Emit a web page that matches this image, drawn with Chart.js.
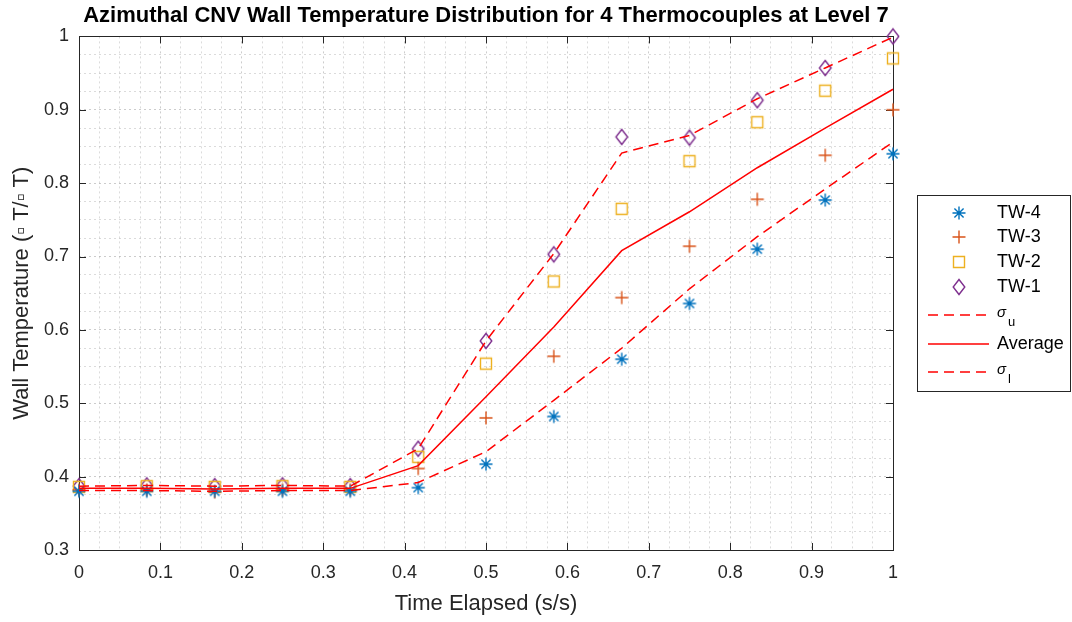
<!DOCTYPE html>
<html>
<head>
<meta charset="utf-8">
<title>Azimuthal CNV Wall Temperature</title>
<script src="https://cdn.jsdelivr.net/npm/chart.js@4.4.1/dist/chart.umd.min.js"></script>
<style>
  html, body { margin: 0; padding: 0; background: #fff; }
  #wrap { width: 1072px; height: 622px; }
</style>
</head>
<body>
<div id="wrap"><canvas id="wallChart" width="1072" height="622"></canvas></div>
<script>
// values
var timeElapsed = [0, 0.0833, 0.1667, 0.25, 0.3333, 0.4167, 0.5, 0.5833, 0.6667, 0.75, 0.8333, 0.9167, 1];
var tw4 = [0.380, 0.380, 0.380, 0.380, 0.380, 0.385, 0.417, 0.482, 0.560, 0.636, 0.710, 0.777, 0.840];
var tw3 = [0.382, 0.382, 0.379, 0.382, 0.382, 0.411, 0.480, 0.564, 0.644, 0.714, 0.778, 0.838, 0.900];
var tw2 = [0.386, 0.387, 0.386, 0.387, 0.386, 0.427, 0.554, 0.666, 0.765, 0.830, 0.883, 0.926, 0.970];
var tw1 = [0.387, 0.388, 0.387, 0.388, 0.387, 0.438, 0.585, 0.703, 0.863, 0.862, 0.913, 0.957, 1.000];
var avgTemp    = [0.384, 0.384, 0.383, 0.384, 0.384, 0.415, 0.509, 0.604, 0.708, 0.761, 0.821, 0.875, 0.928];
var sigmaUpper = [0.387, 0.388, 0.387, 0.388, 0.387, 0.438, 0.585, 0.704, 0.841, 0.865, 0.915, 0.957, 0.999];
var sigmaLower = [0.381, 0.381, 0.380, 0.381, 0.381, 0.392, 0.434, 0.504, 0.575, 0.656, 0.727, 0.792, 0.856];
var xTickLabels = ['0', '0.1', '0.2', '0.3', '0.4', '0.5', '0.6', '0.7', '0.8', '0.9', '1'];
var yTickLabels = ['0.3', '0.4', '0.5', '0.6', '0.7', '0.8', '0.9', '1'];

var FONT = '"Liberation Sans", Arial, Helvetica, sans-serif';
var AX = '#262626';

function pts(ys) {
  return timeElapsed.map(function(x, i) { return {x: x, y: ys[i]}; });
}

// MATLAB-like marker glyphs
function makeMarker(kind, color) {
  var c = document.createElement('canvas');
  c.width = 18; c.height = 20;
  var g = c.getContext('2d');
  var cx = 9, cy = 10;
  g.strokeStyle = color;
  g.lineWidth = 1.4;
  g.beginPath();
  if (kind === 'asterisk') {
    var r = 6.5, d = r * 0.707;
    g.moveTo(cx, cy - r); g.lineTo(cx, cy + r);
    g.moveTo(cx - r, cy); g.lineTo(cx + r, cy);
    g.moveTo(cx - d, cy - d); g.lineTo(cx + d, cy + d);
    g.moveTo(cx - d, cy + d); g.lineTo(cx + d, cy - d);
  } else if (kind === 'plus') {
    g.moveTo(cx, cy - 6.5); g.lineTo(cx, cy + 6.5);
    g.moveTo(cx - 6.5, cy); g.lineTo(cx + 6.5, cy);
  } else if (kind === 'square') {
    g.rect(cx - 5.5, cy - 5.5, 11, 11);
  } else {
    g.moveTo(cx, cy - 7.5); g.lineTo(cx + 5.8, cy);
    g.lineTo(cx, cy + 7.5); g.lineTo(cx - 5.8, cy);
    g.closePath();
  }
  g.stroke();
  return c;
}

var mk4 = makeMarker('asterisk', '#0072BD');
var mk3 = makeMarker('plus', '#D95319');
var mk2 = makeMarker('square', '#EDB120');
var mk1 = makeMarker('diamond', '#7E2F8E');

function isMajor(v) { return Math.round(v * 40) % 4 === 0; }

var axesFrame = {
  id: 'axesFrame',
  beforeDatasetsDraw: function(chart) {
    var a = chart.chartArea, ctx = chart.ctx;
    var xs = chart.scales.x, ys = chart.scales.y;
    ctx.save();
    ctx.strokeStyle = AX;
    ctx.lineWidth = 1;
    ctx.beginPath();
    xTickLabels.forEach(function(t) {
      var px = Math.round(xs.getPixelForValue(parseFloat(t))) + 0.5;
      ctx.moveTo(px, a.bottom); ctx.lineTo(px, a.bottom - 7);
      ctx.moveTo(px, a.top); ctx.lineTo(px, a.top + 7);
    });
    yTickLabels.forEach(function(t) {
      var py = Math.round(ys.getPixelForValue(parseFloat(t))) + 0.5;
      ctx.moveTo(a.left, py); ctx.lineTo(a.left + 7, py);
      ctx.moveTo(a.right, py); ctx.lineTo(a.right - 7, py);
    });
    ctx.stroke();
    ctx.strokeRect(Math.round(a.left) + 0.5, Math.round(a.top) + 0.5,
      Math.round(a.right - a.left), Math.round(a.bottom - a.top));
    ctx.restore();
  }
};

var boxLegend = {
  id: 'boxLegend',
  afterDraw: function(chart) {
    var ctx = chart.ctx;
    var bx = 917, by = 195, bw = 153, bh = 196;
    ctx.save();
    ctx.fillStyle = '#fff';
    ctx.fillRect(bx, by, bw, bh);
    ctx.strokeStyle = AX;
    ctx.lineWidth = 1;
    ctx.strokeRect(bx + 0.5, by + 0.5, bw, bh);

    var rows = [
      {mk: mk4, text: 'TW-4', y: 213},
      {mk: mk3, text: 'TW-3', y: 237},
      {mk: mk2, text: 'TW-2', y: 262},
      {mk: mk1, text: 'TW-1', y: 287},
      {dash: [10, 6], sigma: 'u', y: 315},
      {dash: [], text: 'Average', y: 344},
      {dash: [10, 6], sigma: 'l', y: 372}
    ];
    ctx.textBaseline = 'middle';
    ctx.textAlign = 'left';
    rows.forEach(function(r) {
      if (r.mk) {
        ctx.drawImage(r.mk, 959 - r.mk.width / 2, r.y - r.mk.height / 2);
      } else {
        ctx.strokeStyle = '#FF0000';
        ctx.lineWidth = 1.5;
        ctx.setLineDash(r.dash);
        ctx.beginPath();
        ctx.moveTo(928, r.y); ctx.lineTo(989, r.y);
        ctx.stroke();
        ctx.setLineDash([]);
      }
      ctx.fillStyle = '#000';
      if (r.sigma) {
        ctx.font = 'italic 15px ' + FONT;
        ctx.fillText('\u03C3', 997, r.y - 2);
        ctx.font = '13px ' + FONT;
        ctx.fillText(r.sigma, 1008, r.y + 7);
      } else {
        ctx.font = '18px ' + FONT;
        ctx.fillText(r.text, 997, r.y);
      }
    });
    ctx.restore();
  }
};

function lineSet(label, ys, dash) {
  return {
    label: label,
    data: pts(ys),
    showLine: true,
    borderColor: '#FF0000',
    borderWidth: 1.5,
    borderDash: dash,
    pointRadius: 0,
    tension: 0,
    clip: false
  };
}

function markerSet(label, ys, img) {
  return {
    label: label,
    data: pts(ys),
    showLine: false,
    pointStyle: img,
    pointRadius: 7,
    clip: false
  };
}

var ctx = document.getElementById('wallChart');
new Chart(ctx, {
  type: 'scatter',
  data: {
    datasets: [
      lineSet('\u03C3u', sigmaUpper, [10, 6]),
      lineSet('Average', avgTemp, []),
      lineSet('\u03C3l', sigmaLower, [10, 6]),
      markerSet('TW-4', tw4, mk4),
      markerSet('TW-3', tw3, mk3),
      markerSet('TW-2', tw2, mk2),
      markerSet('TW-1', tw1, mk1)
    ]
  },
  options: {
    responsive: false,
    animation: false,
    layout: { padding: { top: 0, right: 179, bottom: 0, left: 0 } },
    plugins: {
      legend: { display: false },
      tooltip: { enabled: false },
      title: {
        display: true,
        fullSize: false,
        text: 'Azimuthal CNV Wall Temperature Distribution for 4 Thermocouples at Level 7',
        color: '#000',
        font: { family: FONT, size: 22, weight: 'bold' },
        padding: { top: 3, bottom: 7 }
      }
    },
    scales: {
      x: {
        type: 'linear',
        min: 0,
        max: 1,
        afterFit: function(scale) { scale.height = 72; },
        ticks: {
          stepSize: 0.025,
          autoSkip: false,
          maxRotation: 0,
          padding: 12,
          color: AX,
          font: { family: FONT, size: 18 },
          callback: function(v) { return isMajor(v) ? xTickLabels[Math.round(v * 10)] : ''; }
        },
        grid: {
          drawTicks: false,
          lineWidth: 1,
          color: function(c) { return isMajor(c.tick.value) ? 'rgba(0,0,0,0.2)' : 'rgba(0,0,0,0.14)'; }
        },
        border: { display: false, dash: [2, 3] },
        title: {
          display: true,
          text: 'Time Elapsed (s/s)',
          color: AX,
          font: { family: FONT, size: 22 },
          padding: { top: 0, bottom: 5 }
        }
      },
      y: {
        type: 'linear',
        min: 0.3,
        max: 1,
        afterFit: function(scale) { scale.width = 79; },
        ticks: {
          stepSize: 0.025,
          autoSkip: false,
          padding: 10,
          color: AX,
          font: { family: FONT, size: 18 },
          callback: function(v) { return isMajor(v) ? yTickLabels[Math.round(v * 10) - 3] : ''; }
        },
        grid: {
          drawTicks: false,
          lineWidth: 1,
          color: function(c) { return isMajor(c.tick.value) ? 'rgba(0,0,0,0.2)' : 'rgba(0,0,0,0.14)'; }
        },
        border: { display: false, dash: [2, 3] },
        title: {
          display: true,
          text: 'Wall Temperature (\u25AB T/\u25AB T)',
          color: AX,
          font: { family: FONT, size: 22 },
          padding: { top: 9, bottom: 0 }
        }
      }
    }
  },
  plugins: [axesFrame, boxLegend]
});
</script>
</body>
</html>
